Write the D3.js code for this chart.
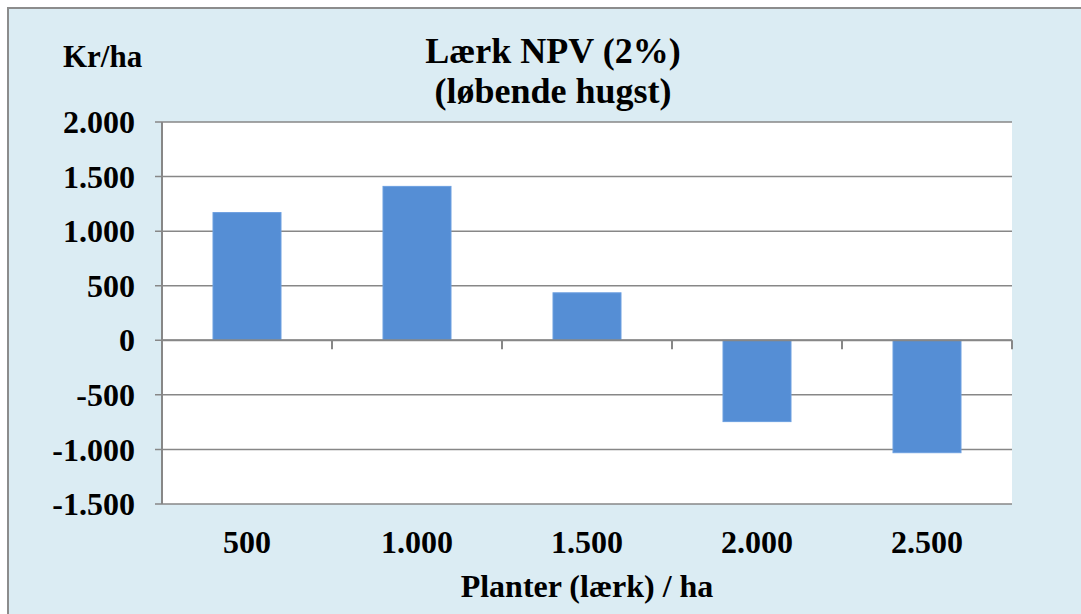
<!DOCTYPE html>
<html>
<head>
<meta charset="utf-8">
<script src="https://cdn.jsdelivr.net/npm/d3@7"></script>
<style>
  body { margin: 0; background: #fff; }
  text { font-family: "Liberation Serif", "Times New Roman", serif; font-weight: bold; fill: #000; }
</style>
</head>
<body>
<script>
// Data
var categories = ["500", "1.000", "1.500", "2.000", "2.500"];
var npvValues = [1170, 1410, 435, -745, -1030];
var yTicks = [2000, 1500, 1000, 500, 0, -500, -1000, -1500];
var titleLines = ["Lærk NPV (2%)", "(løbende hugst)"];

var W = 1081, H = 614;
var plot = {left: 162, top: 122, right: 1012, bottom: 504};

var svg = d3.select("body").append("svg")
    .attr("width", W)
    .attr("height", H);

// chart area background with frame
svg.append("rect")
   .attr("x", 8).attr("y", 8)
   .attr("width", W + 20).attr("height", H + 20)
   .attr("fill", "#dbecf3")
   .attr("stroke", "#8c8c8c")
   .attr("stroke-width", 2);

// plot area
svg.append("rect")
   .attr("x", plot.left).attr("y", plot.top)
   .attr("width", plot.right - plot.left)
   .attr("height", plot.bottom - plot.top)
   .attr("fill", "#fff");

var xScale = d3.scaleBand()
    .domain(categories)
    .range([plot.left, plot.right])
    .paddingInner(0.6)
    .paddingOuter(0.3);

var xOuter = d3.scaleBand()
    .domain(categories)
    .range([plot.left, plot.right]);

var yScale = d3.scaleLinear()
    .domain([-1500, 2000])
    .range([plot.bottom, plot.top]);

var fmt = function(v) {
  return d3.format(",")(v).replace(/,/g, ".").replace("−", "-");
};

// gridlines
svg.append("g")
   .selectAll("line")
   .data(yTicks)
   .enter().append("line")
   .attr("x1", plot.left - 7)
   .attr("x2", plot.right)
   .attr("y1", d => yScale(d))
   .attr("y2", d => yScale(d))
   .attr("stroke", "#878787")
   .attr("stroke-width", 1.5);

// y axis labels
svg.append("g")
   .selectAll("text")
   .data(yTicks)
   .enter().append("text")
   .attr("x", 135)
   .attr("y", d => yScale(d))
   .attr("dy", "0.35em")
   .attr("text-anchor", "end")
   .style("font-size", "32px")
   .text(d => fmt(d));

// bars
svg.append("g")
   .selectAll("rect")
   .data(npvValues)
   .enter().append("rect")
   .attr("x", (d, i) => xScale(categories[i]))
   .attr("width", xScale.bandwidth())
   .attr("y", d => yScale(Math.max(0, d)))
   .attr("height", d => Math.abs(yScale(d) - yScale(0)))
   .attr("fill", "#558ed5")
   .attr("stroke", "#6c9fe0")
   .attr("stroke-width", 1);

// y axis line
svg.append("line")
   .attr("x1", plot.left).attr("x2", plot.left)
   .attr("y1", plot.top).attr("y2", plot.bottom)
   .attr("stroke", "#878787")
   .attr("stroke-width", 2);

// x axis line at zero with ticks at category borders
svg.append("line")
   .attr("x1", plot.left).attr("x2", plot.right)
   .attr("y1", yScale(0)).attr("y2", yScale(0))
   .attr("stroke", "#878787")
   .attr("stroke-width", 2);

svg.append("g")
   .selectAll("line")
   .data(categories)
   .enter().append("line")
   .attr("x1", d => xOuter(d) + xOuter.bandwidth())
   .attr("x2", d => xOuter(d) + xOuter.bandwidth())
   .attr("y1", yScale(0))
   .attr("y2", yScale(0) + 9)
   .attr("stroke", "#878787")
   .attr("stroke-width", 2);

// x labels
svg.append("g")
   .selectAll("text")
   .data(categories)
   .enter().append("text")
   .attr("x", d => xOuter(d) + xOuter.bandwidth() / 2)
   .attr("y", 553)
   .attr("text-anchor", "middle")
   .style("font-size", "32px")
   .text(d => d);

// axis titles
svg.append("text")
   .attr("x", (plot.left + plot.right) / 2)
   .attr("y", 597)
   .attr("text-anchor", "middle")
   .style("font-size", "32px")
   .text("Planter (lærk) / ha");

svg.append("text")
   .attr("x", 63)
   .attr("y", 67)
   .style("font-size", "31px")
   .text("Kr/ha");

// chart title
svg.append("g")
   .selectAll("text")
   .data(titleLines)
   .enter().append("text")
   .attr("x", 553)
   .attr("y", (d, i) => 63 + i * 40)
   .attr("text-anchor", "middle")
   .style("font-size", "36px")
   .text(d => d);
</script>
</body>
</html>
